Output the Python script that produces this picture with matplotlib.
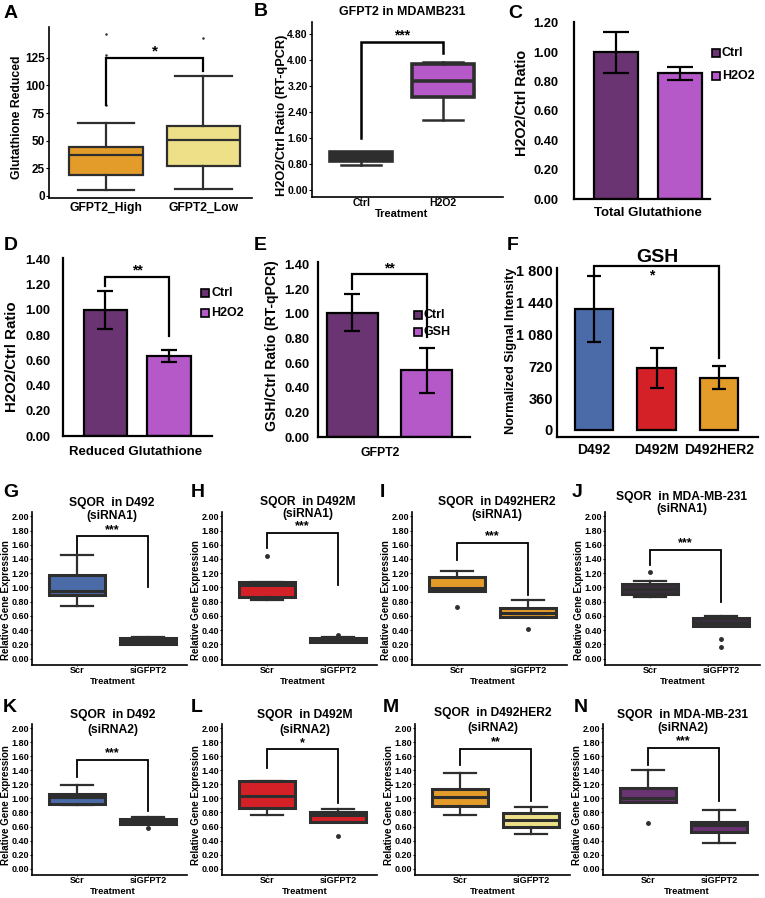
import numpy as np
import matplotlib
matplotlib.use("Agg")
import matplotlib.pyplot as plt
from matplotlib.ticker import FormatStrFormatter

plt.rcParams['font.family'] = ['Liberation Sans', 'DejaVu Sans']
plt.rcParams['font.weight'] = 'bold'
plt.rcParams['axes.labelweight'] = 'bold'

# ---- data ----
# A: glutathione reduced, boxplot stats
a_groups = ["GFPT2_High", "GFPT2_Low"]
a_q1 = [19, 27]
a_med = [37, 51]
a_q3 = [44, 63]
a_lo = [5, 6]
a_hi = [66, 109]
a_out = [[82, 128, 147], [143]]

# B: GFPT2 in MDAMB231
b_groups = ["Ctrl", "H2O2"]
b_q1 = [0.90, 2.88]
b_med = [1.08, 3.36]
b_q3 = [1.18, 3.88]
b_lo = [0.78, 2.17]
b_hi = [1.18, 3.94]

# C, D, E, F: bar charts with error bars
c_labels = ["Ctrl", "H2O2"]
c_vals = [1.00, 0.855]
c_err = [0.14, 0.045]

d_labels = ["Ctrl", "H2O2"]
d_vals = [1.00, 0.635]
d_err = [0.15, 0.045]

e_labels = ["Ctrl", "GSH"]
e_vals = [1.01, 0.54]
e_err = [0.15, 0.18]

f_lines = ["D492", "D492M", "D492HER2"]
f_vals = [1370, 698, 592]
f_err = [372, 228, 133]
f_ticks = [0, 360, 720, 1080, 1440, 1800]

# G-N: SQOR relative expression, Scr vs siGFPT2
sqor_cells = ["D492", "D492M", "D492HER2", "MDA-MB-231",
              "D492", "D492M", "D492HER2", "MDA-MB-231"]
sqor_sirna = ["siRNA1"] * 4 + ["siRNA2"] * 4
sqor_stars = ["***", "***", "***", "***", "***", "*", "**", "***"]
sqor_groups = ["Scr", "siGFPT2"]
scr_q1 = [0.89, 0.87, 0.95, 0.91, 0.92, 0.86, 0.89, 0.95]
scr_med = [0.95, 1.03, 0.99, 0.98, 1.02, 1.03, 1.02, 1.00]
scr_q3 = [1.18, 1.07, 1.14, 1.05, 1.07, 1.25, 1.13, 1.15]
scr_lo = [0.74, 0.82, 0.95, 0.86, 0.90, 0.77, 0.76, 0.95]
scr_hi = [1.46, 1.07, 1.23, 1.09, 1.19, 1.25, 1.36, 1.40]
scr_out = [[], [1.44], [0.72], [1.22], [], [], [], [0.65]]
si_q1 = [0.21, 0.23, 0.59, 0.46, 0.64, 0.66, 0.59, 0.52]
si_med = [0.25, 0.26, 0.64, 0.50, 0.67, 0.77, 0.69, 0.62]
si_q3 = [0.29, 0.29, 0.71, 0.57, 0.71, 0.81, 0.79, 0.66]
si_lo = [0.21, 0.23, 0.59, 0.46, 0.64, 0.66, 0.50, 0.36]
si_hi = [0.30, 0.31, 0.82, 0.60, 0.73, 0.85, 0.88, 0.83]
si_out = [[], [0.33], [0.42], [0.28, 0.16], [0.58], [0.47], [], []]
# significance brackets: left leg start, top, right leg end
br_left = [1.48, 1.56, 1.39, 1.31, 1.31, 1.44, 1.47, 1.47]
br_top = [1.72, 1.77, 1.63, 1.53, 1.55, 1.70, 1.71, 1.72]
br_right = [1.00, 1.03, 0.89, 0.80, 0.82, 0.94, 0.96, 0.96]

BLUE = "#4A6BA8"
RED = "#D42127"
ORANGE = "#E39B2A"
YELLOW = "#EDE088"
DPURPLE = "#6A3372"
PURPLE = "#B558C8"
DARK = "#2E2E2E"
JFILL = "#3A2F3E"

sqor_scr_col = [BLUE, RED, ORANGE, JFILL, BLUE, RED, ORANGE, DPURPLE]
sqor_si_col = [BLUE, RED, ORANGE, JFILL, BLUE, RED, YELLOW, DPURPLE]

W, H = 765, 898
fig = plt.figure(figsize=(W / 100, H / 100), dpi=100)


def add_ax(l, t, r, b):
    return fig.add_axes([l / W, 1 - b / H, (r - l) / W, (b - t) / H])


def ftext(x, y, s, fs, rot=0, ha="center"):
    fig.text(x / W, 1 - y / H, s, fontsize=fs, fontweight="bold",
             ha=ha, va="center", rotation=rot)


def style(ax, lw=1.2):
    for s in ["top", "right"]:
        ax.spines[s].set_visible(False)
    for s in ["left", "bottom"]:
        ax.spines[s].set_linewidth(lw)
        ax.spines[s].set_color("black")


def bracket(ax, x1, x2, y1, ytop, y2, label, dy, fs, lw=1.5):
    ax.plot([x1, x1, x2, x2], [y1, ytop, ytop, y2], color="black", lw=lw,
            clip_on=False, solid_joinstyle="miter")
    ax.text((x1 + x2) / 2, ytop + dy, label, ha="center", va="center",
            fontsize=fs, fontweight="bold", clip_on=False)


def boxes(ax, q1, med, q3, lo, hi, out, colors, width, capw, lw, wlw, ms):
    stats = []
    for i in range(len(q1)):
        stats.append(dict(q1=q1[i], med=med[i], q3=q3[i], whislo=lo[i],
                          whishi=hi[i], fliers=out[i]))
    bp = ax.bxp(stats, positions=[1, 2], widths=width, capwidths=capw,
                patch_artist=True, showfliers=True,
                boxprops=dict(edgecolor=DARK, linewidth=lw),
                medianprops=dict(color=DARK, linewidth=lw),
                whiskerprops=dict(color=DARK, linewidth=wlw),
                capprops=dict(color=DARK, linewidth=wlw),
                flierprops=dict(marker="o", markersize=ms, markerfacecolor=DARK,
                                markeredgecolor=DARK))
    for patch, c in zip(bp["boxes"], colors):
        patch.set_facecolor(c)
    return bp


def letter(x, y, s):
    fig.text(x / W, 1 - y / H, s, fontsize=14, fontweight="bold",
             ha="left", va="center")


# ---------------- A ----------------
ax = add_ax(49, 27, 252, 198)
boxes(ax, a_q1, a_med, a_q3, a_lo, a_hi, a_out, [ORANGE, YELLOW],
      0.76, 0.58, 1.6, 1.6, 0.8)
ax.set_xlim(0.41, 2.5)
ax.set_ylim(-2, 153)
ax.set_yticks([0, 25, 50, 75, 100, 125])
ax.set_xticks([1, 2])
ax.set_xticklabels(a_groups, fontsize=8.7)
ax.tick_params(axis="y", labelsize=8.5, length=2, pad=1)
ax.tick_params(axis="x", length=0, pad=3)
style(ax)
bracket(ax, 1, 2, 82, 125, 113, "*", 6, 11, lw=1.6)
ftext(17, 117, "Glutathione Reduced", 8.8, rot=90)
letter(4, 13, "A")

# ---------------- B ----------------
ax = add_ax(312, 22, 503, 197)
boxes(ax, b_q1, b_med, b_q3, b_lo, b_hi, [[], []], [DARK, PURPLE],
      0.75, 0.49, 2.6, 1.8, 2)
ax.set_xlim(0.40, 2.73)
ax.set_ylim(-0.2, 5.17)
ax.set_yticks([0, 0.8, 1.6, 2.4, 3.2, 4.0, 4.8])
ax.yaxis.set_major_formatter(FormatStrFormatter("%.2f"))
ax.set_xticks([1, 2])
ax.set_xticklabels(b_groups, fontsize=7.5)
ax.tick_params(axis="y", labelsize=7.6, length=2, pad=1)
ax.tick_params(axis="x", length=1, pad=0)
style(ax)
bracket(ax, 1, 2, 1.62, 4.56, 4.22, "***", 0.2, 10, lw=1.8)
ftext(402, 12, "GFPT2 in MDAMB231", 8.9)
ftext(402, 214, "Treatment", 8)
ftext(282, 115, "H2O2/Ctrl Ratio (RT-qPCR)", 9.2, rot=90)
letter(254, 11, "B")


# ---------------- C, D, E (Excel style bars) ----------------
def bar_panel(box, vals, err, labels, xlim, ylim, yticks, tpad, capsize,
              leg_xy, leg_gap):
    ax = add_ax(*box)
    x = np.arange(len(vals))
    ax.bar(x, vals, width=0.69, color=[DPURPLE, PURPLE], edgecolor="black",
           linewidth=1.6, zorder=2)
    ax.errorbar(x, vals, yerr=err, fmt="none", ecolor="black", elinewidth=1.6,
                capsize=capsize, capthick=1.6, zorder=3)
    ax.set_xlim(*xlim)
    ax.set_ylim(*ylim)
    ax.set_yticks(yticks)
    ax.yaxis.set_major_formatter(FormatStrFormatter("%.2f"))
    ax.set_xticks([])
    ax.tick_params(axis="y", labelsize=9.3, length=0, pad=tpad)
    style(ax, lw=1.6)
    for i, (lab, col) in enumerate(zip(labels, [DPURPLE, PURPLE])):
        lx, ly = leg_xy[0], leg_xy[1] + i * leg_gap
        fig.patches.append(plt.Rectangle(((lx - 4) / W, 1 - (ly + 4) / H),
                                         8 / W, 8 / H, transform=fig.transFigure,
                                         facecolor=col, edgecolor="black",
                                         linewidth=1.2))
        fig.text((lx + 6) / W, 1 - ly / H, lab, fontsize=9,
                 fontweight="bold", va="center", ha="left")
    return ax


ax = bar_panel((574, 22, 710, 199), c_vals, c_err, c_labels, (-0.66, 1.47),
               (0, 1.205), [0, 0.2, 0.4, 0.6, 0.8, 1.0, 1.2], 11, 9.5,
               (716, 53), 23)
ftext(648, 213, "Total Glutathione", 9.5)
ftext(522, 103, "H2O2/Ctrl Ratio", 10.4, rot=90)
letter(508, 13, "C")

ax = bar_panel((63, 258, 212, 436), d_vals, d_err, d_labels, (-0.67, 1.68),
               (0, 1.41), [0, 0.2, 0.4, 0.6, 0.8, 1.0, 1.2, 1.4], 9, 6,
               (205, 293), 20)
bracket(ax, 0, 1, 1.19, 1.26, 0.79, "**", 0.05, 10, lw=1.6)
ftext(136, 452, "Reduced Glutathione", 9.5)
ftext(12, 357, "H2O2/Ctrl Ratio", 10.8, rot=90)
letter(4, 245, "D")

ax = bar_panel((318, 262, 470, 437), e_vals, e_err, e_labels, (-0.46, 1.58),
               (0, 1.42), [0, 0.2, 0.4, 0.6, 0.8, 1.0, 1.2, 1.4], 6, 6,
               (418, 315), 17)
bracket(ax, 0, 1, 1.20, 1.32, 0.81, "**", 0.05, 10, lw=1.6)
ftext(380, 453, "GFPT2", 8.8)
ftext(272, 346, "GSH/Ctrl Ratio (RT-qPCR)", 10.1, rot=90)
letter(254, 246, "E")

# ---------------- F ----------------
ax = add_ax(557, 268, 758, 437)
x = np.arange(len(f_vals))
ax.bar(x, f_vals, width=0.61, color=[BLUE, RED, ORANGE], edgecolor="black",
       linewidth=1.6, zorder=2)
ax.errorbar(x, f_vals, yerr=f_err, fmt="none", ecolor="black", elinewidth=1.6,
            capsize=5, capthick=1.6, zorder=3)
ax.set_xlim(-0.59, 2.62)
ax.set_ylim(-80, 1830)
ax.set_yticks(f_ticks)
ax.set_yticklabels([f"{v:,}".replace(",", " ") for v in f_ticks])
ax.set_xticks(x)
ax.set_xticklabels(f_lines, fontsize=10)
ax.tick_params(axis="y", labelsize=10.5, length=0, pad=3)
ax.tick_params(axis="x", length=0, pad=4)
style(ax, lw=1.6)
bracket(ax, 0, 2, 1736, 1849, 811, "", 0, 10, lw=1.6)
ax.text(0.93, 1745, "*", ha="center", va="center", fontsize=10,
        fontweight="bold")
ftext(657, 258, "GSH", 14)
ftext(511, 351, "Normalized Signal Intensity", 9.2, rot=90)
letter(507, 246, "F")

# ---------------- G - N ----------------
pan_boxes = [(32, 512, 187, 665), (222, 512, 377, 665), (412, 512, 567, 665),
             (605, 512, 760, 665), (32, 724, 187, 875), (222, 724, 377, 875),
             (415, 724, 570, 875), (603, 724, 758, 875)]
title_pos = [(112, 503, 516), (308, 502, 514), (497, 502, 515), (682, 497, 509),
             (113, 715, 730), (305, 715, 730), (493, 713, 728), (683, 715, 728)]
ylab_pos = [(6, 600), (196, 600), (386, 600), (579, 600),
            (6, 805), (196, 805), (389, 805), (577, 805)]
treat_pos = [(113, 682), (303, 682), (493, 682), (683, 682),
             (113, 891), (305, 891), (493, 891), (687, 891)]
letter_pos = [(3, 492), (191, 492), (380, 492), (572, 492),
              (3, 707), (191, 707), (383, 707), (574, 707)]
letters = "GHIJKLMN"

for i in range(8):
    ax = add_ax(*pan_boxes[i])
    boxes(ax, [scr_q1[i], si_q1[i]], [scr_med[i], si_med[i]],
          [scr_q3[i], si_q3[i]], [scr_lo[i], si_lo[i]], [scr_hi[i], si_hi[i]],
          [scr_out[i], si_out[i]], [sqor_scr_col[i], sqor_si_col[i]],
          0.78, 0.45, 2.2, 1.6, 2.5)
    ax.set_xlim(0.37, 2.55)
    ax.set_ylim(-0.09, 2.06)
    ax.set_yticks(np.arange(0, 2.01, 0.2))
    ax.yaxis.set_major_formatter(FormatStrFormatter("%.2f"))
    ax.set_xticks([1, 2])
    ax.set_xticklabels(sqor_groups, fontsize=6.6)
    ax.tick_params(axis="y", labelsize=6.5, length=1.5, pad=0.5)
    ax.tick_params(axis="x", length=1, pad=0)
    style(ax)
    bracket(ax, 1, 2, br_left[i], br_top[i], br_right[i], sqor_stars[i],
            0.09, 9, lw=1.3)
    tx, ty1, ty2 = title_pos[i]
    ftext(tx, ty1, "SQOR  in " + sqor_cells[i], 8.7)
    ftext(tx, ty2, "(" + sqor_sirna[i] + ")", 8.7)
    ftext(ylab_pos[i][0], ylab_pos[i][1], "Relative Gene Expression", 7,
          rot=90)
    ftext(treat_pos[i][0], treat_pos[i][1], "Treatment", 6.8)
    letter(letter_pos[i][0], letter_pos[i][1], letters[i])

fig.savefig("out.png", dpi=100)
